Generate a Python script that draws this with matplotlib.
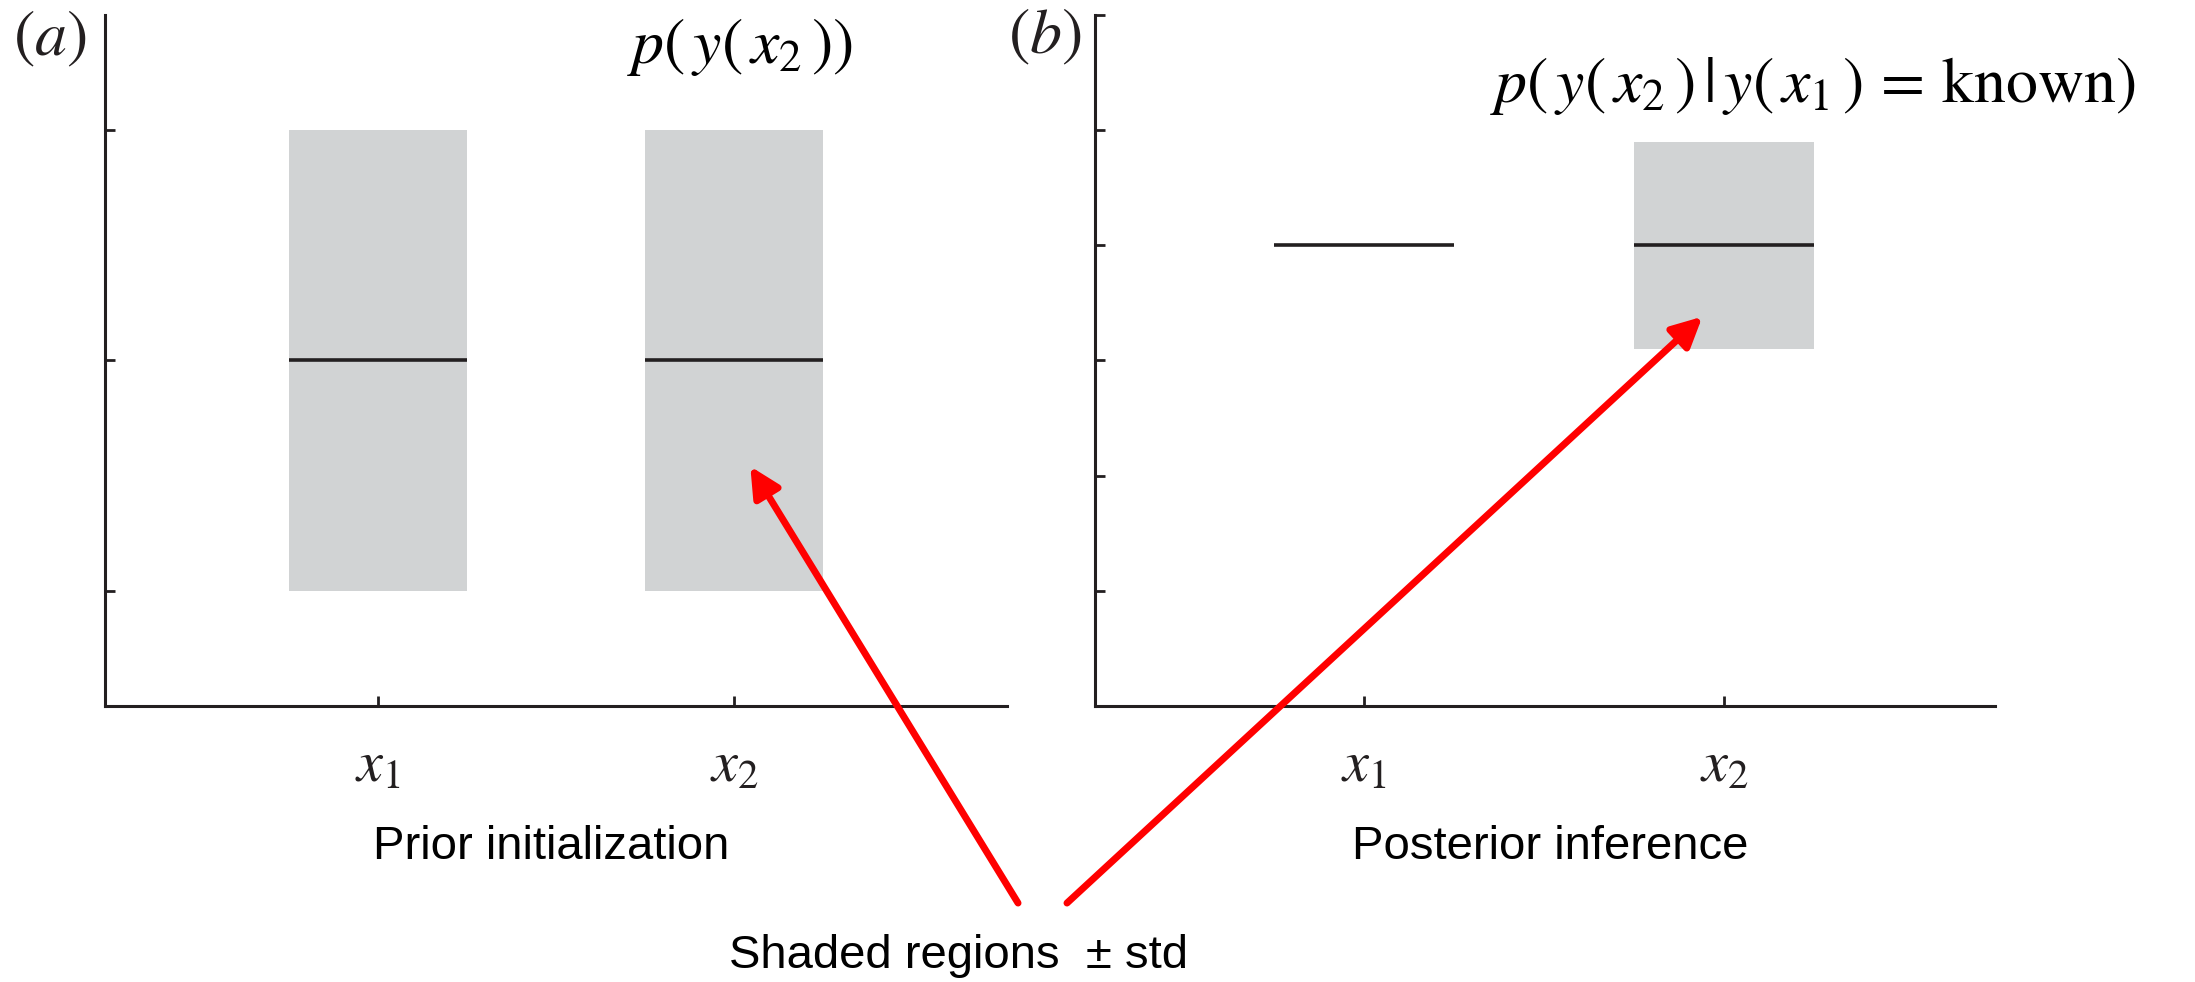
"""Prior vs posterior sketch of a two-point Gaussian process."""
import matplotlib
matplotlib.use("Agg")
import matplotlib.pyplot as plt

plt.rcParams.update(
    {
        "mathtext.fontset": "stix",
        "font.family": ["Liberation Sans", "DejaVu Sans"],
        "axes.linewidth": 2.2,
        "axes.edgecolor": "#231f20",
    }
)

# Input locations and their labels.
x_pos = [1, 2]
x_labels = [r"$x_1$", r"$x_2$"]

# Prior: both points share the same mean and std.
prior_mean = [0.0, 0.0]
prior_std = [1.0, 1.0]

# Posterior: y(x1) observed (no spread), y(x2) pulled toward it.
post_mean = [0.5, 0.5]
post_std = [0.0, 0.45]

prior_yticks = [-1, 0, 1]
post_yticks = [-1.5, -1, -0.5, 0, 0.5, 1, 1.5]

# Where the red arrows point, in each panel's data coordinates.
arrow_tip_a = (2.045, -0.46)
arrow_tip_b = (1.94, 0.19)

BAR_W = 0.5
GREY = "#d1d3d4"
DARK = "#231f20"

fig = plt.figure(figsize=(21.95, 9.82), dpi=100)
ax_a = fig.add_axes([0.0478, 0.2811, 0.4110, 0.7037])
ax_b = fig.add_axes([0.4989, 0.2811, 0.4100, 0.7037])


def draw_panel(ax, means, stds, yticks, xlim):
    lows = [m - s for m, s in zip(means, stds)]
    heights = [2 * s for s in stds]
    ax.bar(x_pos, heights, bottom=lows, width=BAR_W, color=GREY,
           edgecolor="none", zorder=1)
    ax.hlines(means, [x - BAR_W / 2 for x in x_pos],
              [x + BAR_W / 2 for x in x_pos], color=DARK, lw=2.6, zorder=2)
    ax.set_xlim(*xlim)
    ax.set_ylim(-1.5, 1.5)
    ax.set_xticks(x_pos, labels=x_labels)
    ax.set_yticks(yticks, labels=[])
    ax.tick_params(axis="both", direction="in", length=7, width=2.0,
                   color=DARK)
    ax.tick_params(axis="x", pad=24, labelsize=42, labelcolor=DARK)
    for side in ("top", "right"):
        ax.spines[side].set_visible(False)
    ax.set_facecolor("none")


draw_panel(ax_a, prior_mean, prior_std, prior_yticks, (0.235, 2.765))
draw_panel(ax_b, post_mean, post_std, post_yticks, (0.253, 2.753))

# Panel tags and distribution formulas.
fig.text(0.0228, 0.960, r"$(a)$", fontsize=46, ha="center", va="center",
         color=DARK)
fig.text(0.4760, 0.962, r"$(b)$", fontsize=46, ha="center", va="center",
         color=DARK)
fig.text(0.337, 0.952, r"$p\left(\,y\left(\,x_2\,\right)\right)$",
         fontsize=46, ha="center", va="center", color="black")
fig.text(0.826, 0.912,
         r"$p\left(\,y\left(\,x_2\,\right)\,|\,y\left(\,x_1\,\right)\,=\,\mathrm{known}\right)$",
         fontsize=46, ha="center", va="center", color="black")

# Captions under each panel.
fig.text(0.251, 0.1253, "Prior initialization", fontsize=34, ha="center",
         va="baseline")
fig.text(0.7061, 0.1253, "Posterior inference", fontsize=34, ha="center",
         va="baseline")
fig.text(0.4369, 0.0143, "Shaded regions  \u00b1 std", fontsize=34,
         ha="center", va="baseline")

arrow_kw = dict(arrowstyle="-|>,head_length=0.9,head_width=0.45",
                color="#ff0000", lw=5, shrinkA=0, shrinkB=0,
                mutation_scale=20)
ax_a.annotate("", xy=arrow_tip_a, xycoords="data",
              xytext=(0.4638, 0.0804), textcoords="figure fraction",
              arrowprops=arrow_kw, annotation_clip=False, zorder=5)
ax_b.annotate("", xy=arrow_tip_b, xycoords="data",
              xytext=(0.4861, 0.0804), textcoords="figure fraction",
              arrowprops=arrow_kw, annotation_clip=False, zorder=5)

fig.savefig("out.png", dpi=100)
